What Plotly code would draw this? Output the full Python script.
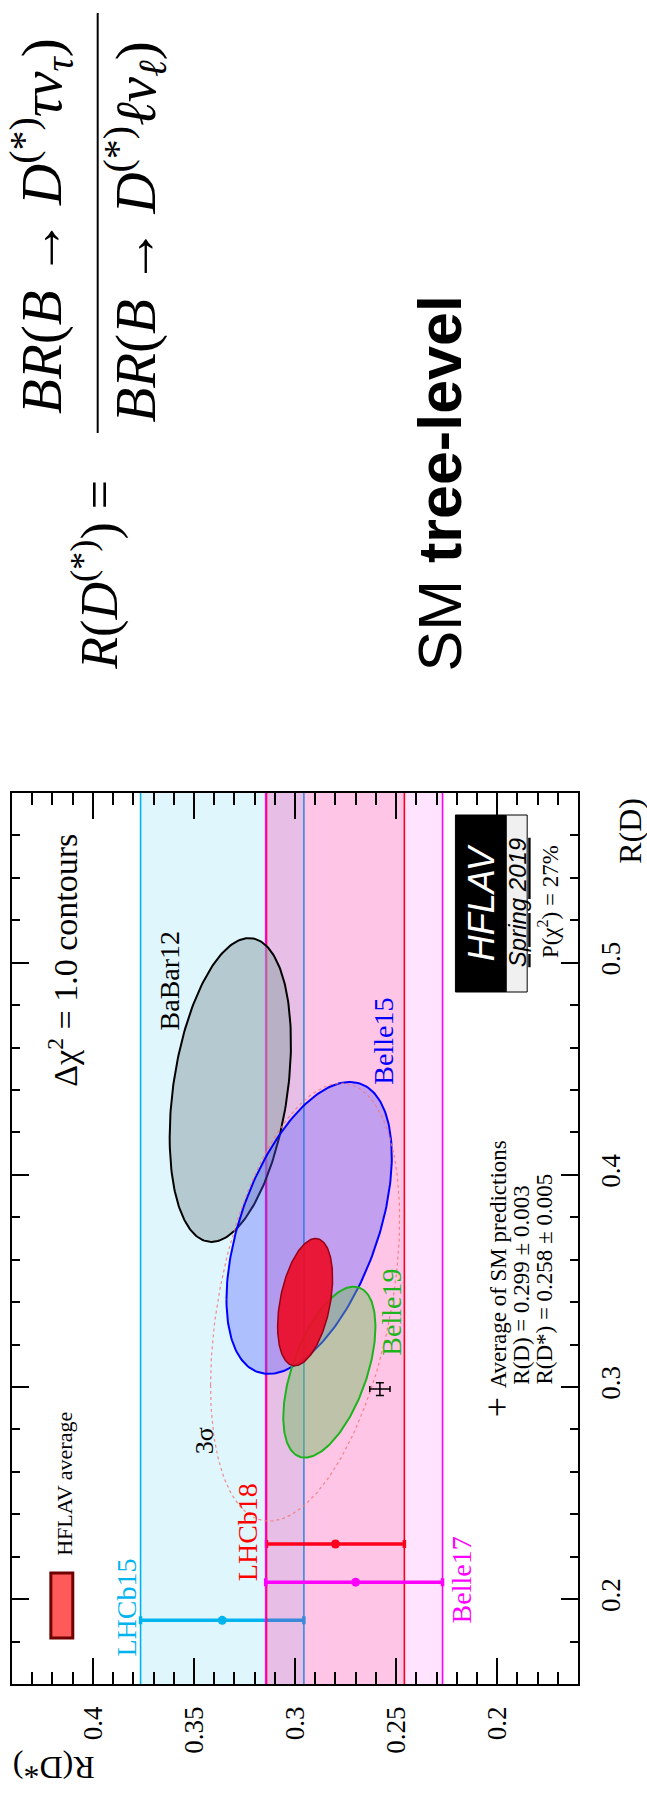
import numpy as np
import plotly.graph_objects as go

W, H = 647, 1798
PL, PR, PT, PB = 10, 578, 793, 1684   # plot frame in pixels

SERIF = "Liberation Serif"
SANS = "Liberation Sans"

# ---------------- data ----------------
RDS_RANGE = [0.16, 0.44]   # R(D*)  (horizontal, reversed)
RD_RANGE = [0.16, 0.58]    # R(D)   (vertical)

ell_names = ["BaBar12", "Belle15", "Belle19"]
ell_rd = [0.440, 0.375, 0.307]
ell_rd_err = [0.0716, 0.0688, 0.0403]
ell_rds = [0.332, 0.293, 0.283]
ell_rds_err = [0.0300, 0.0409, 0.0228]
ell_rho = [-0.31, -0.49, -0.53]
ell_fill = ["rgba(145,165,172,0.55)", "rgba(80,90,255,0.35)", "rgba(110,190,90,0.45)"]
ell_line = ["black", "rgb(0,0,255)", "rgb(30,180,30)"]

avg_rd, avg_rd_err = 0.340, 0.030
avg_rds, avg_rds_err = 0.295, 0.0136
avg_rho = -0.38

band_names = ["LHCb15", "LHCb18", "Belle17"]
band_rds = [0.336, 0.280, 0.270]
band_err_hi = [0.0404, 0.0341, 0.0445]
band_err_lo = [0.0404, 0.0341, 0.0430]
band_bar_rd = [0.190, 0.226, 0.208]
band_fill = ["rgba(0,180,240,0.12)", "rgba(255,0,50,0.13)", "rgba(255,0,255,0.11)"]
band_line = ["rgb(0,180,240)", "rgb(255,0,0)", "rgb(255,0,255)"]

sm_rd, sm_rd_err = 0.299, 0.003
sm_rds, sm_rds_err = 0.258, 0.005

x_tickvals = [0.2, 0.25, 0.3, 0.35, 0.4]
x_ticktext = ["0.2", "0.25", "0.3", "0.35", "0.4"]
y_tickvals = [0.2, 0.3, 0.4, 0.5]
y_ticktext = ["0.2", "0.3", "0.4", "0.5"]

CHI2_1SIG = 1.0
CHI2_3SIG = 11.83


def px(x, y):
    return (x - PL) / (PR - PL), (PB - y) / (PB - PT)


def ellipse(mx, sx, my, sy, rho, k):
    t = np.linspace(0, 2 * np.pi, 241)
    z1, z2 = np.cos(t), np.sin(t)
    s = np.sqrt(k)
    xs = mx + s * sx * z1
    ys = my + s * sy * (rho * z1 + np.sqrt(1 - rho ** 2) * z2)
    return xs, ys


fig = go.Figure()

# bands
y0, y1 = RD_RANGE
for i in range(3):
    lo = band_rds[i] - band_err_lo[i]
    hi = band_rds[i] + band_err_hi[i]
    fig.add_trace(go.Scatter(x=[lo, hi, hi, lo, lo], y=[y0, y0, y1, y1, y0], mode="lines",
                             fill="toself", fillcolor=band_fill[i], line=dict(width=0),
                             hoverinfo="skip"))
    fig.add_trace(go.Scatter(x=[lo, lo, None, hi, hi], y=[y0, y1, None, y0, y1], mode="lines",
                             line=dict(color=band_line[i], width=1.6), hoverinfo="skip"))
    fig.add_trace(go.Scatter(x=[band_rds[i]], y=[band_bar_rd[i]], mode="markers",
                             marker=dict(color=band_line[i], size=9),
                             error_x=dict(type="data", symmetric=False, array=[band_err_hi[i]],
                                          arrayminus=[band_err_lo[i]], color=band_line[i],
                                          thickness=3.5, width=4)))

# 2D measurements
for i in range(3):
    xs, ys = ellipse(ell_rds[i], ell_rds_err[i], ell_rd[i], ell_rd_err[i], ell_rho[i], CHI2_1SIG)
    fig.add_trace(go.Scatter(x=xs, y=ys, mode="lines", fill="toself", fillcolor=ell_fill[i],
                             line=dict(color=ell_line[i], width=2)))

# average
xs, ys = ellipse(avg_rds, avg_rds_err, avg_rd, avg_rd_err, avg_rho, CHI2_1SIG)
fig.add_trace(go.Scatter(x=xs, y=ys, mode="lines", fill="toself", fillcolor="rgba(237,12,40,0.92)",
                         line=dict(color="rgb(150,0,20)", width=1.5)))
xs, ys = ellipse(avg_rds, avg_rds_err, avg_rd, avg_rd_err, avg_rho, CHI2_3SIG)
fig.add_trace(go.Scatter(x=xs, y=ys, mode="lines",
                         line=dict(color="rgba(240,120,120,0.85)", width=1.2, dash="dot")))

# SM prediction
fig.add_trace(go.Scatter(x=[sm_rds], y=[sm_rd], mode="markers", marker=dict(size=1, color="black"),
                         error_x=dict(type="data", array=[sm_rds_err], color="black", thickness=1.5, width=3),
                         error_y=dict(type="data", array=[sm_rd_err], color="black", thickness=1.5, width=4)))

# ---------------- annotations ----------------
texts = [
    # text, cx, cy, size, color, angle, family
    ("Δχ<sup>2</sup> = 1.0 contours", 61, 960, 34, "black", -90, SERIF),
    ("BaBar12", 168, 980, 28, "black", -90, SERIF),
    ("Belle15", 382, 1041, 28, "rgb(0,0,255)", -90, SERIF),
    ("Belle19", 390, 1312, 28, "rgb(30,180,30)", -90, SERIF),
    ("3σ", 203, 1441, 26, "black", -90, SERIF),
    ("LHCb18", 246, 1532, 28, "rgb(255,0,0)", -90, SERIF),
    ("LHCb15", 124, 1608, 28, "rgb(0,180,240)", -90, SERIF),
    ("Belle17", 461, 1580, 28, "rgb(255,0,255)", -90, SERIF),
    ("HFLAV average", 62, 1484, 22, "black", -90, SERIF),
    ("P(χ<sup>2</sup>) = 27%", 548, 902, 23, "black", -90, SERIF),
    ("<i>HFLAV</i>", 481, 903, 36, "white", -90, SANS),
    ("<i><u>Spring 2019</u></i>", 517, 903, 24, "black", -90, SANS),
    ("R(D*)", 52, 1768, 32, "black", 180, SERIF),
    ("R(D)", 630, 831, 32, "black", -90, SERIF),
    ("+", 497, 1407, 36, "black", -90, SERIF),
    ("SM <b>tree-level</b>", 440, 483, 61, "black", -90, SANS),
    ("<i>R</i>(<i>D</i><sup>(*)</sup>) =", 94, 575, 52, "black", -90, SERIF),
    ("<i>BR</i>(<i>B</i> → <i>D</i><sup>(*)</sup><i>τν</i><sub><i>τ</i></sub>)", 40, 226, 57, "black", -90, SERIF),
    ("<i>BR</i>(<i>B</i> → <i>D</i><sup>(*)</sup><i>ℓν</i><sub><i>ℓ</i></sub>)", 133, 232, 57, "black", -90, SERIF),
]
ann = []
for t, cx, cy, s, c, a, f in texts:
    xp, yp = px(cx, cy)
    ann.append(dict(text=t, x=xp, y=yp, xref="paper", yref="paper", xanchor="center", yanchor="middle",
                    showarrow=False, textangle=a, font=dict(size=s, color=c, family=f)))

# SM text lines (start aligned)
sm_lines = [("Average of SM predictions", 498, 1390),
            ("R(D) = 0.299 ± 0.003", 521, 1387),
            ("R(D*) = 0.258 ± 0.005", 544, 1387)]
for t, cx, ystart in sm_lines:
    xp, yp = px(cx, ystart)
    ann.append(dict(text=t, x=xp, y=yp, xref="paper", yref="paper", xanchor="center", yanchor="bottom",
                    showarrow=False, textangle=-90, font=dict(size=23, color="black", family=SERIF)))

shapes = []
def rect_px(x0, y0, x1, y1, fill, line, lw):
    a0, b0 = px(x0, y0)
    a1, b1 = px(x1, y1)
    return dict(type="rect", xref="paper", yref="paper", x0=a0, y0=b0, x1=a1, y1=b1,
                fillcolor=fill, line=dict(color=line, width=lw), layer="above")

shapes.append(rect_px(49, 1573, 71, 1638, "rgb(255,90,90)", "rgb(110,0,0)", 3))
shapes.append(rect_px(455, 815, 506, 992, "black", "black", 1))
shapes.append(rect_px(506, 815, 527, 992, "rgb(240,240,240)", "black", 1))
a0, b0 = px(96, 13)
a1, b1 = px(96, 433)
shapes.append(dict(type="line", xref="paper", yref="paper", x0=a0, y0=b0, x1=a1, y1=b1,
                   line=dict(color="black", width=2)))

axis_common = dict(showline=True, linecolor="black", linewidth=1.5, mirror="ticks", ticks="inside",
                   tickcolor="black", tickwidth=1.5, showgrid=False, zeroline=False,
                   tickfont=dict(family=SERIF, size=27, color="black"), tickangle=-90)

fig.update_layout(
    width=W, height=H, autosize=False,
    margin=dict(l=PL, r=W - PR, t=PT, b=H - PB, pad=0),
    paper_bgcolor="white", plot_bgcolor="white", showlegend=False,
    xaxis=dict(range=[RDS_RANGE[1], RDS_RANGE[0]], tickmode="array", tickvals=x_tickvals,
               ticktext=x_ticktext, ticklen=26, ticklabelstandoff=10,
               minor=dict(dtick=0.01, tick0=0, ticks="inside", ticklen=12, tickwidth=1.5, tickcolor="black"),
               **axis_common),
    yaxis=dict(range=RD_RANGE, side="right", tickmode="array", tickvals=y_tickvals,
               ticktext=y_ticktext, ticklen=17, ticklabelstandoff=8,
               minor=dict(dtick=0.02, tick0=0, ticks="inside", ticklen=8, tickwidth=1.5, tickcolor="black"),
               **axis_common),
    annotations=ann, shapes=shapes,
)

fig.write_html("out.html")
